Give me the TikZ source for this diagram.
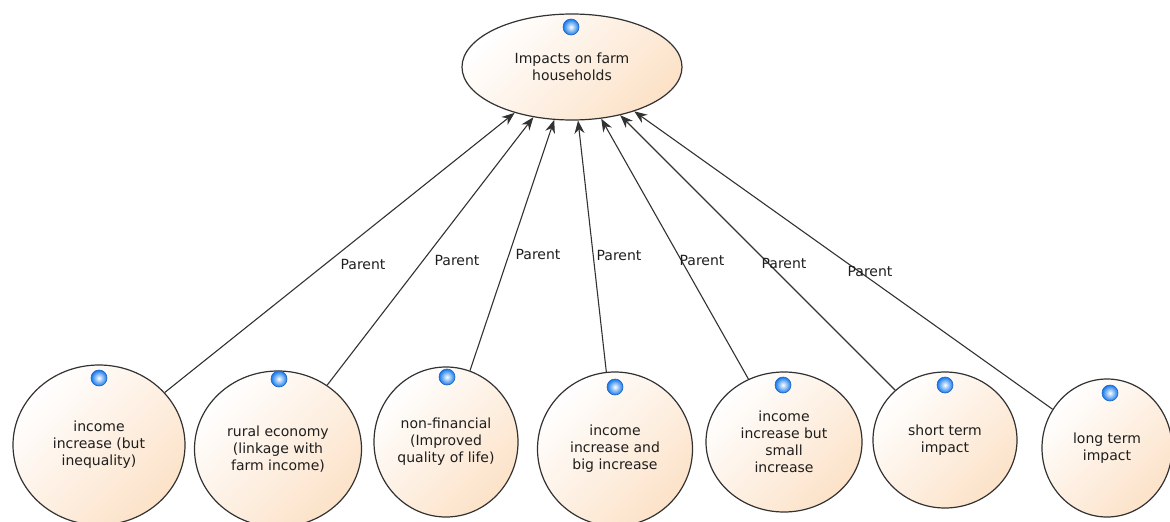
\documentclass[tikz,border=0pt]{standalone}
\usepackage{fontspec}
\setmainfont{DejaVu Sans}
\usetikzlibrary{shapes.geometric,arrows.meta}
\definecolor{peach}{RGB}{252,226,200}
\definecolor{edge}{RGB}{50,50,50}
\definecolor{txt}{RGB}{30,30,30}
\definecolor{dotblue}{RGB}{20,120,235}
\definecolor{dotedge}{RGB}{30,100,200}
\begin{document}
\begin{tikzpicture}[x=1pt,y=-1pt,
  uc/.style={ellipse, draw=edge, line width=1.2pt, top color=white, bottom color=peach,
    shading angle=45, inner sep=0pt, align=center,
    font=\fontsize{14}{17}\selectfont, text=txt},
  dot/.style={circle, minimum size=16pt, inner sep=0pt, inner color=white,
    outer color=dotblue, draw=dotedge, line width=0.6pt},
  conn/.style={draw=edge, line width=1.1pt, -{Stealth[length=13pt,width=10pt]}},
  lbl/.style={font=\fontsize{14}{17}\selectfont, text=txt, inner sep=0pt}]
\useasboundingbox (0,0) rectangle (1170,522);
% parent
\node[uc, minimum width=220pt, minimum height=106pt] (p) at (572,67) {Impacts on farm\\households};
% children
\node[uc, minimum width=172pt, minimum height=160pt] (c1) at (99,445) {income\\increase (but\\inequality)};
\node[uc, minimum width=167pt, minimum height=156pt] (c2) at (278,449) {rural economy\\(linkage with\\farm income)};
\node[uc, minimum width=144pt, minimum height=150pt] (c3) at (446,442) {non-financial\\(Improved\\quality of life)};
\node[uc, minimum width=155pt, minimum height=154pt] (c4) at (615,449) {income\\increase and\\big increase};
\node[uc, minimum width=156pt, minimum height=140pt] (c5) at (784,442) {income\\increase but\\small\\increase};
\node[uc, minimum width=144pt, minimum height=136pt] (c6) at (945,440) {short term\\impact};
\node[uc, minimum width=130pt, minimum height=138pt] (c7) at (1107,448) {long term\\impact};
% dots
\node[dot] (dp) at (571,27) {};
\node[dot] (d1) at (99,378) {};
\node[dot] (d2) at (279,379) {};
\node[dot] (d3) at (447,377) {};
\node[dot] (d4) at (615,387) {};
\node[dot] (d5) at (783,385) {};
\node[dot] (d6) at (945,385) {};
\node[dot] (d7) at (1110,393) {};
% connectors
\draw[conn] (c1) -- (p) node[lbl] (l1) at (363,264) {Parent};
\draw[conn] (c2) -- (p) node[lbl] (l2) at (457,260) {Parent};
\draw[conn] (c3) -- (p) node[lbl] (l3) at (538,254) {Parent};
\draw[conn] (c4) -- (p) node[lbl] (l4) at (619,255) {Parent};
\draw[conn] (c5) -- (p) node[lbl] (l5) at (702,260) {Parent};
\draw[conn] (c6) -- (p) node[lbl] (l6) at (784,263) {Parent};
\draw[conn] (c7) -- (p) node[lbl] (l7) at (870,271) {Parent};
\end{tikzpicture}
\end{document}
